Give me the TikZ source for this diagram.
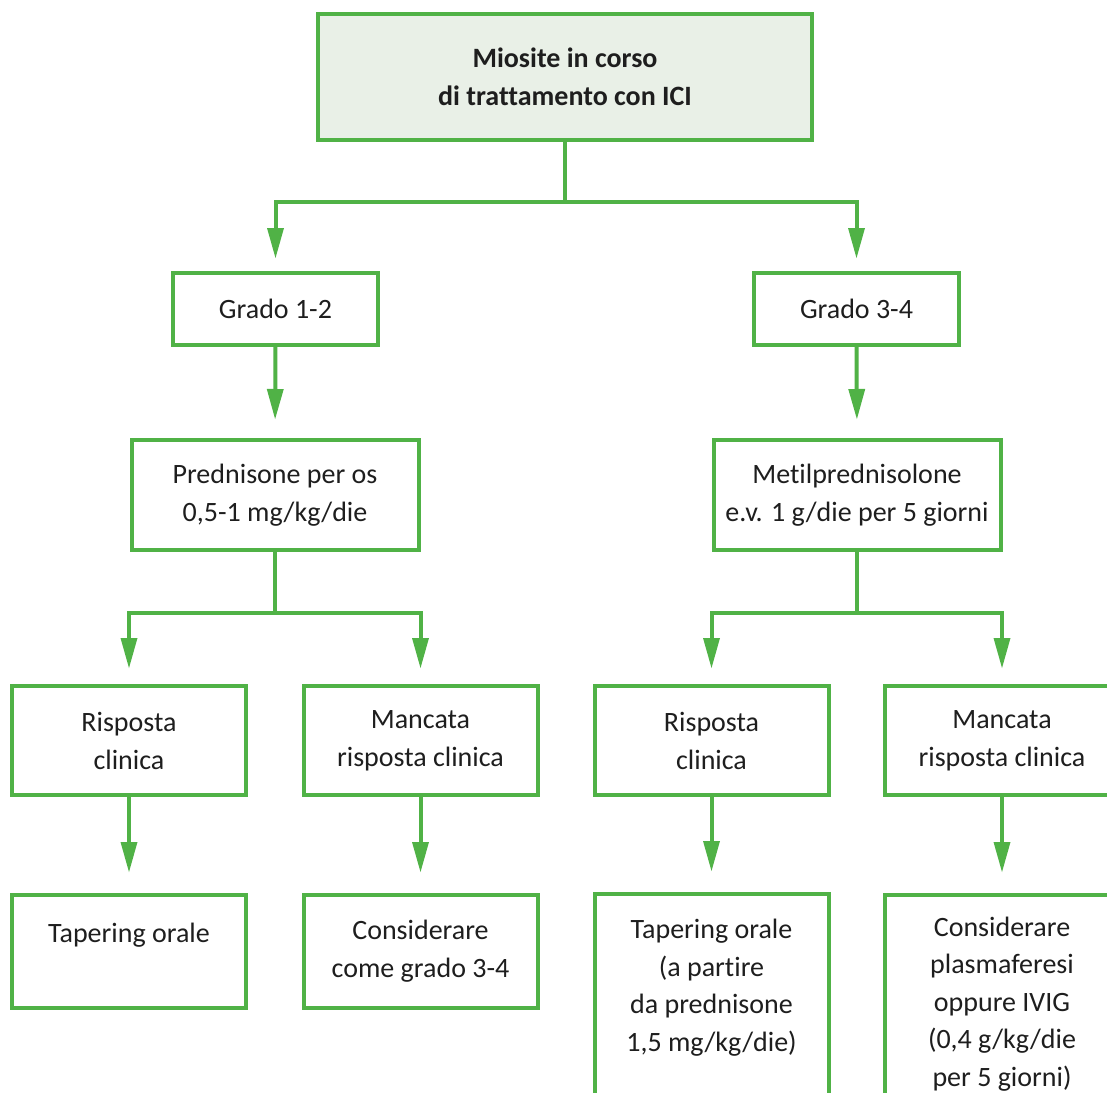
\documentclass[tikz,border=0pt]{standalone}
\usepackage{fontspec}
\setmainfont{Carlito}[Ligatures=NoCommon]
\usetikzlibrary{arrows.meta}
\definecolor{grn}{RGB}{80,178,70}
\definecolor{topfill}{RGB}{233,240,231}
\definecolor{txt}{RGB}{30,30,30}
\begin{document}
\begin{tikzpicture}[x=1pt,y=-1pt,
  box/.style={draw=grn, line width=4pt, fill=white, align=center, text=txt,
    font=\fontsize{28}{38}\selectfont, inner sep=0pt, outer sep=0pt},
  conn/.style={draw=grn, line width=4pt},
  arr/.style={conn, -{Triangle[length=30pt,width=17pt,line width=0pt]}},
]
\fill[white] (0,0) rectangle (1107,1092);
\useasboundingbox (0,0) rectangle (1107,1092);
\clip (0,0) rectangle (1107,1092);

% nodes
\node[box, fill=topfill, minimum width=494pt, minimum height=126pt,
      font=\bfseries\fontsize{28}{38}\selectfont] (top) at (565,77)
      {Miosite in corso\\di trattamento con ICI};

\node[box, minimum width=205pt, minimum height=72pt] (g1) at (275.5,309) {Grado 1-2};
\node[box, minimum width=205pt, minimum height=72pt] (g2) at (856.5,309) {Grado 3-4};

\node[box, minimum width=287pt, minimum height=110pt] (p1) at (275,495)
      {Prednisone per os\\0,5-1 mg/kg/die};
\node[box, minimum width=287pt, minimum height=110pt] (p2) at (857,495)
      {Metilprednisolone\\e.v. 1 g/die per 5 giorni};

\node[box, minimum width=234pt, minimum height=109pt] (a1) at (129,740.5) {Risposta\\clinica};
\node[box, minimum width=234pt, minimum height=109pt] (a2) at (420.5,740.5) {Mancata\\risposta clinica};
\node[box, minimum width=234pt, minimum height=109pt] (a3) at (711.5,740.5) {Risposta\\clinica};
\node[box, minimum width=234pt, minimum height=109pt] (a4) at (1002,740.5) {Mancata\\risposta clinica};

\node[box, minimum width=234pt, minimum height=113pt] (b1) at (129,951.5) {Tapering orale\\\mbox{}};
\node[box, minimum width=234pt, minimum height=113pt] (b2) at (420.5,951.5) {Considerare\\come grado 3-4};
\node[box, minimum width=234pt, minimum height=220pt, font=\fontsize{28}{37.5}\selectfont] (b3) at (711.5,1004)
      {Tapering orale\\(a partire\\da prednisone\\1,5 mg/kg/die)\\\mbox{}};
\node[box, minimum width=234pt, minimum height=218pt, font=\fontsize{28}{37.5}\selectfont] (b4) at (1002,1004)
      {Considerare\\plasmaferesi\\oppure IVIG\\(0,4 g/kg/die\\per 5 giorni)};

% connectors
\coordinate (j0) at (565,202);
\draw[conn] (top.south) -- (j0);
\draw[arr, shorten >=15pt] (j0) -| (g1.north);
\draw[arr, shorten >=15pt] (j0) -| (g2.north);

\draw[arr, shorten >=21pt] (g1.south) -- (p1.north);
\draw[arr, shorten >=21pt] (g2.south) -- (p2.north);

\coordinate (j1) at (275,613);
\coordinate (j2) at (857,613);
\draw[conn] (p1.south) -- (j1);
\draw[conn] (p2.south) -- (j2);
\draw[arr, shorten >=18pt] (j1) -| (a1.north);
\draw[arr, shorten >=18pt] (j1) -| (a2.north);
\draw[arr, shorten >=18pt] (j2) -| (a3.north);
\draw[arr, shorten >=18pt] (j2) -| (a4.north);

\draw[arr, shorten >=23pt] (a1.south) -- (b1.north);
\draw[arr, shorten >=23pt] (a2.south) -- (b2.north);
\draw[arr, shorten >=23pt] (a3.south) -- (b3.north);
\draw[arr, shorten >=23pt] (a4.south) -- (b4.north);
\end{tikzpicture}
\end{document}
